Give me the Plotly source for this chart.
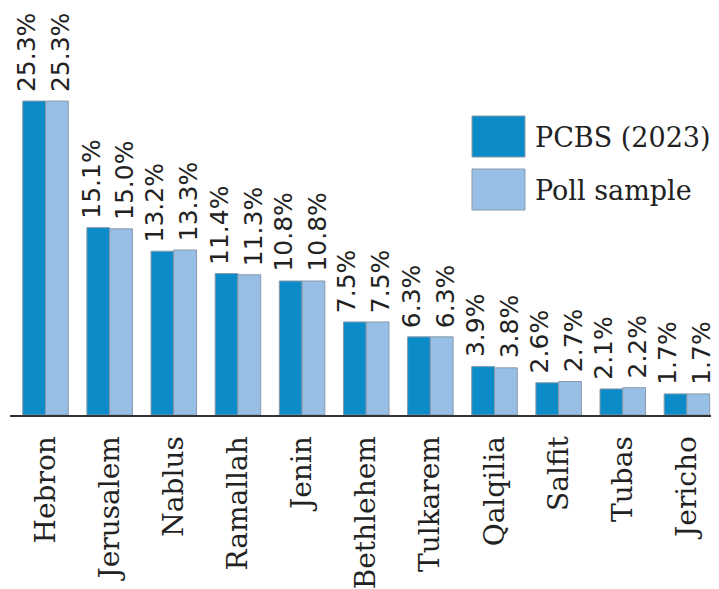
import plotly.graph_objects as go

categories = ["Hebron", "Jerusalem", "Nablus", "Ramallah", "Jenin", "Bethlehem",
              "Tulkarem", "Qalqilia", "Salfit", "Tubas", "Jericho"]
pcbs_2023 = [25.3, 15.1, 13.2, 11.4, 10.8, 7.5, 6.3, 3.9, 2.6, 2.1, 1.7]
poll_sample = [25.3, 15.0, 13.3, 11.3, 10.8, 7.5, 6.3, 3.8, 2.7, 2.2, 1.7]
series_names = ["PCBS (2023)", "Poll sample"]
colors = ["#0b8cc8", "#97bfe6"]

# page has an 8px body margin; figure sized to fit the 719x589 window
OFF = 8
W, H = 711, 581
L, R, T, B = 2, 0, 0, 174
pw, ph = W - L - R, H - T - B

fig = go.Figure()
for name, vals, c in zip(series_names, [pcbs_2023, poll_sample], colors):
    fig.add_trace(go.Bar(
        x=categories, y=vals, name=name,
        marker=dict(color=c, line=dict(color="#8a99aa", width=1)),
        showlegend=False,
    ))

def px_x(p):
    return (p - OFF - L) / pw

def px_y(p):
    return (H - B - (p - OFF)) / ph

shapes = []
annotations = []
# value labels above each bar
for vals, dx in zip([pcbs_2023, poll_sample], [-19, 15]):
    for cat, v in zip(categories, vals):
        annotations.append(dict(xref="x", yref="y", x=cat, y=v, xshift=dx, yshift=7,
                                text=f"{v:.1f}%", textangle=-90, showarrow=False,
                                xanchor="center", yanchor="bottom",
                                font=dict(family="DejaVu Sans", size=25, color="#222222")))

for i, (name, c) in enumerate(zip(series_names, colors)):
    top = 116 + i * 53
    shapes.append(dict(type="rect", xref="paper", yref="paper",
                       x0=px_x(472), x1=px_x(525), y0=px_y(top + 41), y1=px_y(top),
                       fillcolor=c, line=dict(color="#8a99aa", width=1)))
    annotations.append(dict(xref="paper", yref="paper", x=px_x(533), y=px_y(top + 21),
                            xanchor="left", yanchor="middle", text=name, showarrow=False,
                            font=dict(family="DejaVu Serif", size=27, color="#222222")))

fig.update_layout(
    width=W, height=H,
    margin=dict(l=L, r=R, t=T, b=B, pad=0),
    paper_bgcolor="white", plot_bgcolor="white",
    barmode="group", bargap=0.29, bargroupgap=0,
    shapes=shapes, annotations=annotations,
    xaxis=dict(tickangle=-90, showline=True, linecolor="#333333", linewidth=2,
               ticks="", showgrid=False, automargin=False, ticklabelstandoff=8,
               tickfont=dict(family="DejaVu Serif", size=28, color="#222222")),
    yaxis=dict(range=[0, 32.8], visible=False, showgrid=False, automargin=False),
)

fig.write_html("out.html")
